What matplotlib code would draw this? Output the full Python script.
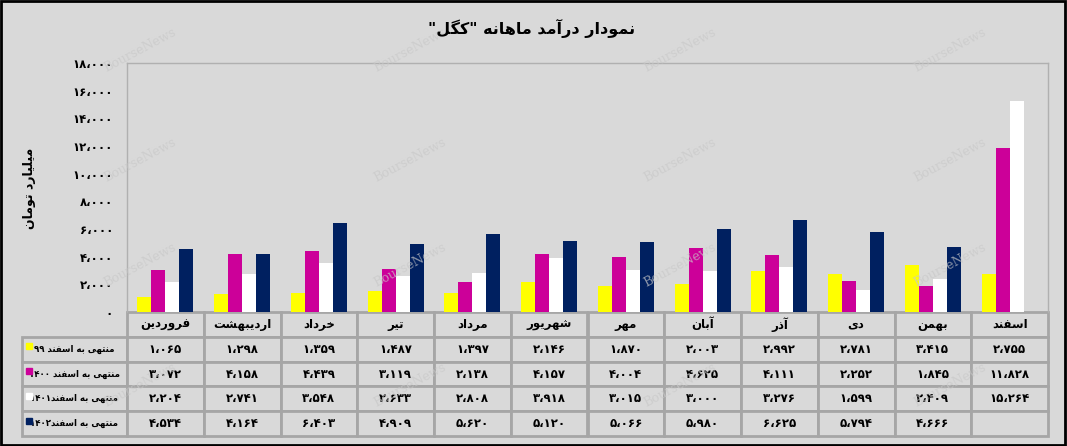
import matplotlib
matplotlib.use("Agg")
import matplotlib.pyplot as plt
import numpy as np

# ---- data -------------------------------------------------------------
months = ["فروردین", "اردیبهشت", "خرداد", "تیر", "مرداد", "شهریور",
          "مهر", "آبان", "آذر", "دی", "بهمن", "اسفند"]
series_names = ["منتهی به اسفند ۹۹", "منتهی به اسفند ۱۴۰۰",
                "منتهی به اسفند۱۴۰۱", "منتهی به اسفند۱۴۰۲"]
rev_99 = [1065, 1298, 1359, 1487, 1397, 2146, 1870, 2003, 2992, 2781, 3415, 2755]
rev_1400 = [3072, 4158, 4439, 3119, 2138, 4157, 4004, 4625, 4111, 2252, 1845, 11828]
rev_1401 = [2204, 2741, 3548, 2633, 2808, 3918, 3015, 3000, 3276, 1599, 2409, 15264]
rev_1402 = [4534, 4164, 6403, 4909, 5620, 5120, 5066, 5980, 6625, 5794, 4666, None]
y_ticks = [0, 2000, 4000, 6000, 8000, 10000, 12000, 14000, 16000, 18000]

title = 'نمودار درآمد ماهانه "کگل"'
y_label = "میلیارد تومان"
colors = ["#ffff00", "#cc0099", "#ffffff", "#002060"]
BG = "#d9d9d9"

# ---- minimal persian shaping (matplotlib has no bidi / shaping) --------
FORMS = {  # isolated, final, initial, medial
    "ا": ("\uFE8D", "\uFE8E", None, None),
    "آ": ("\uFE81", "\uFE82", None, None),
    "ب": ("\uFE8F", "\uFE90", "\uFE91", "\uFE92"),
    "ت": ("\uFE95", "\uFE96", "\uFE97", "\uFE98"),
    "خ": ("\uFEA5", "\uFEA6", "\uFEA7", "\uFEA8"),
    "د": ("\uFEA9", "\uFEAA", None, None),
    "ذ": ("\uFEAB", "\uFEAC", None, None),
    "ر": ("\uFEAD", "\uFEAE", None, None),
    "س": ("\uFEB1", "\uFEB2", "\uFEB3", "\uFEB4"),
    "ش": ("\uFEB5", "\uFEB6", "\uFEB7", "\uFEB8"),
    "ف": ("\uFED1", "\uFED2", "\uFED3", "\uFED4"),
    "ل": ("\uFEDD", "\uFEDE", "\uFEDF", "\uFEE0"),
    "م": ("\uFEE1", "\uFEE2", "\uFEE3", "\uFEE4"),
    "ن": ("\uFEE5", "\uFEE6", "\uFEE7", "\uFEE8"),
    "ه": ("\uFEE9", "\uFEEA", "\uFEEB", "\uFEEC"),
    "و": ("\uFEED", "\uFEEE", None, None),
    "ی": ("\uFBFC", "\uFBFD", "\uFBFE", "\uFBFF"),
    "ک": ("\uFB8E", "\uFB8F", "\uFB90", "\uFB91"),
    "گ": ("\uFB92", "\uFB93", "\uFB94", "\uFB95"),
}
FA_DIGITS = "۰۱۲۳۴۵۶۷۸۹"


def fa(text):
    chars = list(text)
    out = []
    for i, c in enumerate(chars):
        if c not in FORMS:
            out.append(c)
            continue
        prev = chars[i - 1] if i > 0 else None
        nxt = chars[i + 1] if i + 1 < len(chars) else None
        join_prev = prev in FORMS and FORMS[prev][2] is not None
        join_next = nxt in FORMS and FORMS[c][2] is not None
        iso, fin, ini, med = FORMS[c]
        if join_prev and join_next:
            out.append(med)
        elif join_prev:
            out.append(fin)
        elif join_next:
            out.append(ini)
        else:
            out.append(iso)
    s = "".join(reversed(out))
    # keep digit runs left-to-right
    res, run = "", ""
    for c in s:
        if c in FA_DIGITS:
            run += c
        else:
            res += run[::-1] + c
            run = ""
    return res + run[::-1]


def fa_num(v):
    if v is None:
        return ""
    return f"{v:,}".replace(",", "،").translate(str.maketrans("0123456789", FA_DIGITS))


# ---- figure -----------------------------------------------------------
plt.rcParams["font.family"] = ["DejaVu Sans"]
plt.rcParams["font.weight"] = "bold"

W, H = 1067, 446
fig = plt.figure(figsize=(W / 100, H / 100), dpi=100, facecolor=BG)
ax = fig.add_axes([127 / W, 1 - 312 / H, 921 / W, 249 / H], facecolor=BG)

all_series = [rev_99, rev_1400, rev_1401, rev_1402]
x = np.arange(len(months))
bw = 0.182
for i, (vals, col) in enumerate(zip(all_series, colors)):
    v = np.array([np.nan if a is None else a for a in vals], dtype=float)
    ax.bar(x + (i - 1.5) * bw, v, width=bw, color=col, linewidth=0, zorder=3)

ax.set_xlim(-0.5, len(months) - 0.5)
ax.set_ylim(0, 18000)
ax.set_yticks(y_ticks)
ax.set_yticklabels([fa_num(t) for t in y_ticks], fontsize=8.5, fontweight="bold")
ax.tick_params(axis="y", length=0, pad=10)
ax.set_xticks([])
for side in ["top", "right", "left"]:
    ax.spines[side].set_color("#b0b0b0")
    ax.spines[side].set_linewidth(1)
ax.spines["bottom"].set_visible(False)

fig.text(532 / W, 1 - 28 / H, fa(title), ha="center", va="center",
         fontsize=11.5, fontweight="bold")
fig.text(30 / W, 1 - 188 / H, fa(y_label), ha="center", va="center",
         rotation=90, fontsize=9, fontweight="bold")

# ---- data table -------------------------------------------------------
cell_text = [[fa(n)] + [fa_num(v) for v in vals]
             for n, vals in zip(series_names, all_series)]
col_labels = [""] + [fa(m) for m in months]
label_w = 105
col_w = [label_w / 921] + [1 / 12] * 12
tbl_left = -label_w / 921
tbl = ax.table(cellText=cell_text, colLabels=col_labels, colWidths=col_w,
               cellLoc="center", bbox=[tbl_left, -124 / 249, 1 - tbl_left, 124 / 249])
tbl.auto_set_font_size(False)
for (r, c), cell in tbl.get_celld().items():
    cell.set_facecolor(BG)
    cell.set_edgecolor("#a6a6a6")
    cell.set_linewidth(2)
    cell.get_text().set_fontsize(8.5)
    cell.get_text().set_fontweight("bold")
    if r == 0 and c == 0:
        cell.visible_edges = ""
    if c == 0 and r > 0:
        cell.get_text().set_fontsize(6.2)
        cell._loc = "right"
        cell.PAD = 0.03

# legend keys in the row-label cells
for i, col in enumerate(colors):
    yk = -(24 + 25 * i + 10) / 249
    ax.plot([tbl_left + 7 / 921], [yk], marker="s", markersize=4.5, color=col,
            transform=ax.transAxes, clip_on=False, zorder=5, linestyle="none")

# watermark
for wx in [140, 410, 680, 950]:
    for wy in [50, 160, 265, 385]:
        fig.text(wx / W, 1 - wy / H, "BourseNews", fontsize=9, family="DejaVu Serif",
                 fontweight="normal", color="#c8c8c8", rotation=28, ha="center",
                 va="center", alpha=0.7, zorder=0)

# outer frame
fig.patches.append(plt.Rectangle((0.001, 0.002), 0.997, 0.995, transform=fig.transFigure,
                                 fill=False, edgecolor="black", linewidth=2))

fig.savefig("out.png", dpi=100, facecolor=BG)
